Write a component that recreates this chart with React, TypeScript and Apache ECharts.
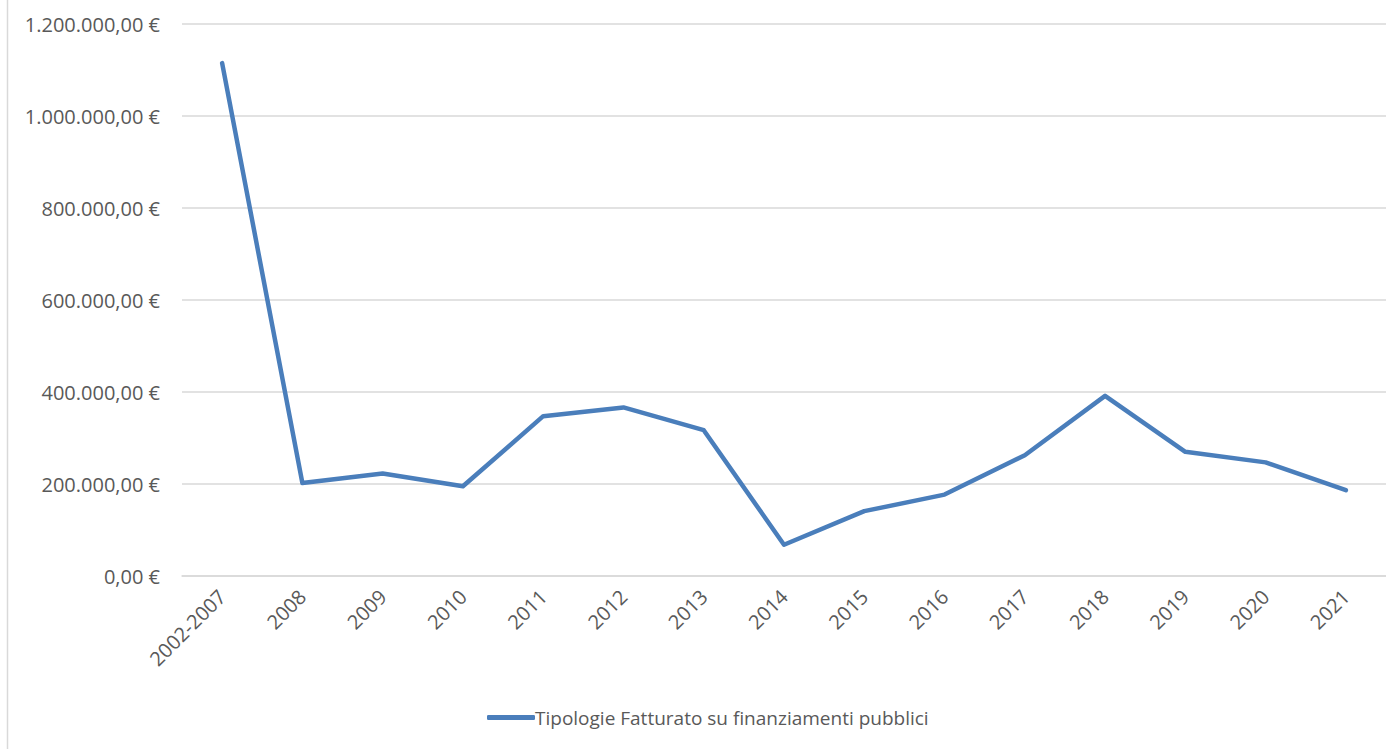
import React, { useEffect, useRef } from "react";
import * as echarts from "echarts";

const categories = [
  "2002-2007", "2008", "2009", "2010", "2011", "2012", "2013", "2014",
  "2015", "2016", "2017", "2018", "2019", "2020", "2021",
];
const seriesName = "Tipologie Fatturato su finanziamenti pubblici";
const values = [
  1115000, 202000, 223000, 195000, 347500, 366500, 317000, 68000,
  141000, 177000, 262500, 391500, 270000, 247000, 186500,
];
const yMin = 0;
const yMax = 1200000;
const yInterval = 200000;

function formatEuro(v: number): string {
  const fixed = v.toFixed(2);
  const [intPart, dec] = fixed.split(".");
  const withDots = intPart.replace(/\B(?=(\d{3})+(?!\d))/g, ".");
  return `${withDots},${dec} €`;
}

const FONT = "'Open Sans', 'Noto Sans', sans-serif";
const TEXT_COLOR = "#595959";

export default function App() {
  const ref = useRef<HTMLDivElement>(null);
  useEffect(() => {
    if (!ref.current) return;
    const chart = echarts.init(ref.current, undefined, { renderer: "svg" });
    chart.setOption({
      animation: false,
      backgroundColor: "#ffffff",
      textStyle: { fontFamily: FONT },
      grid: { left: 182, top: 24, width: 1206, height: 552, containLabel: false },
      legend: {
        show: true,
        bottom: 17,
        left: 482,
        icon: "roundRect",
        itemWidth: 48,
        itemHeight: 5,
        itemGap: 10,
        data: [seriesName],
        textStyle: { color: TEXT_COLOR, fontSize: 19, fontFamily: FONT, padding: [0, 0, 0, -5] },
      },
      xAxis: {
        type: "category",
        data: categories,
        boundaryGap: true,
        axisLine: { show: true, lineStyle: { color: "#d9d9d9", width: 1.5 } },
        axisTick: { show: false },
        axisLabel: {
          rotate: 45,
          interval: 0,
          margin: 17,
          color: TEXT_COLOR,
          fontSize: 20,
          fontFamily: FONT,
        },
      },
      yAxis: {
        type: "value",
        min: yMin,
        max: yMax,
        interval: yInterval,
        axisLine: { show: false },
        axisTick: { show: false },
        splitLine: { show: true, lineStyle: { color: "#d9d9d9", width: 1.5 } },
        axisLabel: {
          margin: 22,
          color: TEXT_COLOR,
          fontSize: 20,
          fontFamily: FONT,
          formatter: (v: number) => formatEuro(v),
        },
      },
      series: [
        {
          name: seriesName,
          type: "line",
          data: values,
          symbol: "none",
          lineStyle: { color: "#4A7EBB", width: 4.5, join: "round", cap: "round" },
          itemStyle: { color: "#4A7EBB" },
        },
      ],
      graphic: [
        {
          type: "line",
          shape: { x1: 7.5, y1: 0, x2: 7.5, y2: 749 },
          style: { stroke: "#d9d9d9", lineWidth: 1.5 },
        },
      ],
    });
    return () => chart.dispose();
  }, []);
  return (
    <div
      ref={ref}
      style={{ position: "fixed", left: 0, top: 0, width: 1386, height: 749 }}
    />
  );
}
